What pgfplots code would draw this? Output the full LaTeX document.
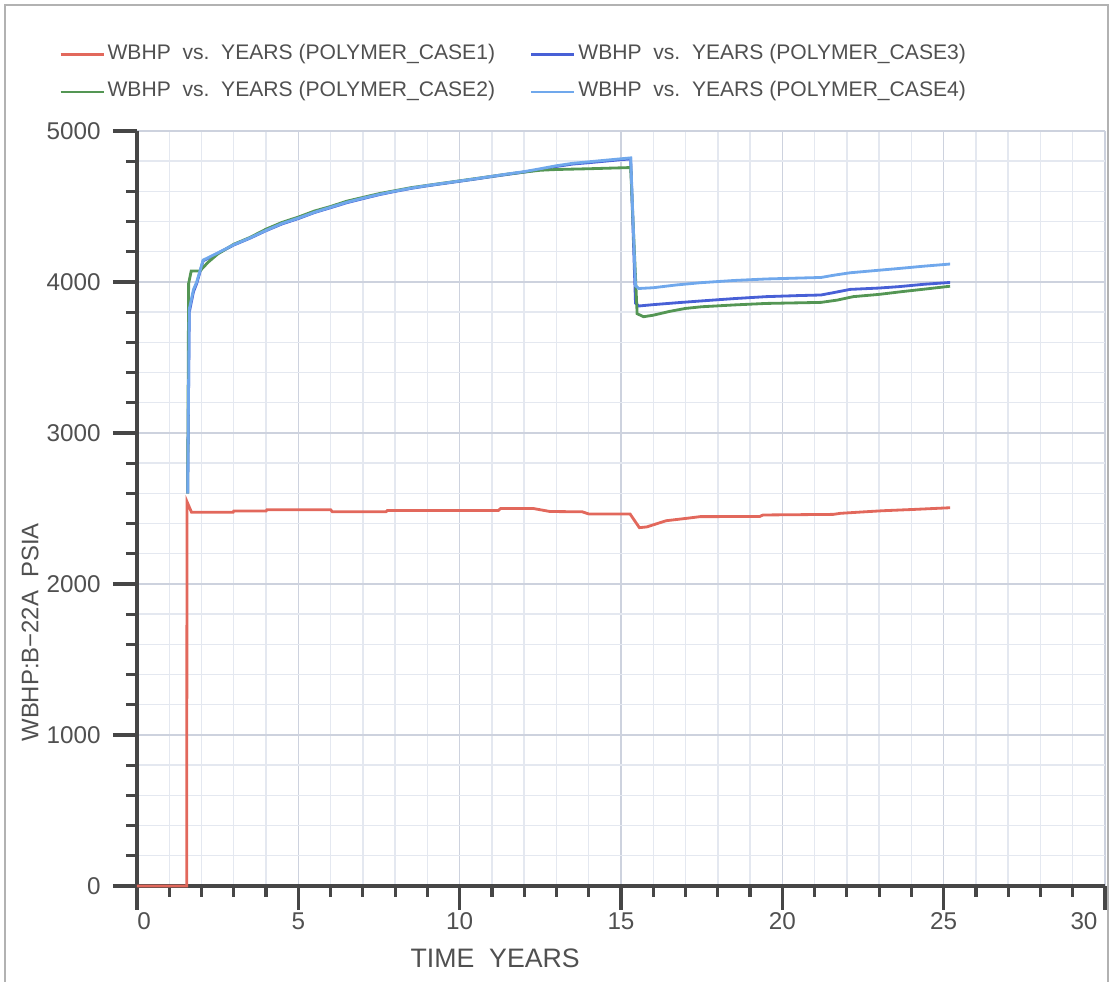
\documentclass[border=0pt]{standalone}
\usepackage{fontspec}
\setmainfont{Liberation Sans}
\usepackage{pgfplots}
\pgfplotsset{compat=1.18}
\definecolor{cred}{RGB}{226,104,92}
\definecolor{cgreen}{RGB}{84,150,84}
\definecolor{cblue}{RGB}{72,96,214}
\definecolor{clblue}{RGB}{112,168,236}
\definecolor{gridmin}{RGB}{228,232,240}
\definecolor{gridmaj}{RGB}{205,210,222}
\definecolor{axisc}{RGB}{70,70,70}
\definecolor{textc}{RGB}{80,80,80}
\begin{document}
\begin{tikzpicture}
\useasboundingbox (0,0) rectangle (111.6mm,98.2mm);
\draw[gray!60, line width=0.6pt] (0.5mm,0mm) -- (0.5mm,97.7mm) -- (110.8mm,97.7mm) -- (110.8mm,0mm);
\begin{axis}[
  at={(13.7mm,9.6mm)}, anchor=south west,
  scale only axis, width=96.8mm, height=75.5mm,
  xmin=0, xmax=30, ymin=0, ymax=5000,
  axis lines=left, axis line style={-, line width=0.9pt, color=axisc},
  xtick={0,5,...,30}, ytick={0,1000,...,5000},
  xticklabels={{\hspace*{1.4mm}0},5,10,15,20,25,{30\hspace*{4.2mm}}},
  minor x tick num=4, minor y tick num=4,
  grid=both,
  major grid style={gridmaj, line width=0.4pt},
  minor grid style={gridmin, line width=0.4pt},
  tick align=outside, major tick length=2.4mm, minor tick length=1.1mm,
  every tick/.style={axisc, line width=0.9pt},
  every tick label/.append style={font=\fontsize{6.9}{8}\selectfont, text=textc},
  xticklabel style={yshift=1.0mm},
  /pgf/number format/assume math mode=true,
  scaled ticks=false,
  /pgf/number format/1000 sep={},
  xlabel={TIME\ \ YEARS}, ylabel={WBHP:B−22A\ \ PSIA},
  xlabel style={at={(axis description cs:0.37,-0.0954)}, anchor=center, font=\fontsize{7.6}{9}\selectfont, text=textc},
  ylabel style={at={(axis description cs:-0.1105,0.336)}, anchor=center, font=\fontsize{6.8}{8}\selectfont, text=textc},
  clip=false,
  legend columns=2,
  legend cell align=left,
  legend style={at={(axis description cs:-0.0919,1.129)}, anchor=north west,
    draw=none, fill=none, font=\fontsize{6.0}{7.2}\selectfont, text=textc,
    nodes={inner sep=0.25mm}, row sep=3.5pt},
  legend image code/.code={\draw[#1] (0mm,0mm) -- (4.3mm,0mm);},
  every axis plot/.append style={line width=0.8pt},
]
\addplot[cred] coordinates {
(0,0) (1.54,0) (1.55,2545) (1.69,2475) (2.98,2475) (3.0,2483) (4.0,2483) (4.03,2492) (6.0,2492) (6.05,2479) (7.72,2479) (7.76,2487) (11.2,2487) (11.27,2500) (12.28,2500) (12.8,2480) (13.8,2478) (14.0,2464) (15.28,2464) (15.57,2373) (15.8,2378) (16.4,2419) (17.0,2434) (17.45,2446) (19.3,2447) (19.4,2457) (21.58,2461) (21.8,2468) (22.4,2476) (23.1,2485) (24.1,2494) (24.7,2500) (25.2,2505)
};
\addlegendentry{\makebox[42.0mm][l]{WBHP\ \ vs.\ \ YEARS (POLYMER\_CASE1)}}
\addplot[cblue] coordinates {
(1.57,2600) (1.62,3800) (1.75,3935) (1.85,3990) (2.05,4140) (2.5,4190) (3.0,4245) (3.5,4290) (4.0,4340) (4.5,4385) (5.0,4420) (5.5,4460) (6.0,4492) (6.5,4525) (7.0,4552) (7.5,4578) (8.0,4600) (8.5,4620) (9.0,4637) (9.5,4652) (10.0,4667) (10.5,4682) (11.0,4698) (11.5,4713) (12.0,4728) (12.5,4745) (13.0,4765) (13.5,4781) (14.0,4790) (14.5,4800) (15.0,4810) (15.3,4815) (15.45,3860) (15.55,3841) (16.0,3850) (16.7,3862) (17.45,3874) (18.5,3890) (19.5,3903) (20.5,3910) (21.2,3914) (21.6,3930) (22.1,3951) (23.0,3960) (23.6,3969) (24.4,3985) (25.2,3997)
};
\addlegendentry{WBHP\ \ vs.\ \ YEARS (POLYMER\_CASE3)}
\addplot[cgreen] coordinates {
(1.57,2600) (1.6,3990) (1.68,4073) (1.95,4073) (2.2,4130) (2.5,4185) (3.0,4250) (3.5,4295) (4.0,4350) (4.5,4395) (5.0,4430) (5.5,4470) (6.0,4500) (6.5,4535) (7.0,4560) (7.5,4585) (8.0,4605) (8.5,4625) (9.0,4640) (9.5,4655) (10.0,4670) (10.5,4685) (11.0,4700) (11.5,4715) (12.0,4728) (12.5,4740) (13.0,4745) (14.0,4750) (15.3,4758) (15.5,3790) (15.7,3770) (16.0,3780) (16.5,3805) (17.0,3825) (17.5,3836) (18.5,3848) (19.5,3858) (20.5,3862) (21.2,3865) (21.7,3880) (22.2,3903) (23.0,3918) (23.7,3936) (24.5,3955) (25.2,3972)
};
\addlegendentry{\makebox[42.0mm][l]{WBHP\ \ vs.\ \ YEARS (POLYMER\_CASE2)}}
\addplot[clblue] coordinates {
(1.57,2600) (1.62,3820) (1.75,3950) (1.85,4000) (2.05,4145) (2.5,4192) (3.0,4247) (3.5,4292) (4.0,4342) (4.5,4388) (5.0,4423) (5.5,4462) (6.0,4495) (6.5,4528) (7.0,4555) (7.5,4580) (8.0,4602) (8.5,4622) (9.0,4639) (9.5,4654) (10.0,4669) (10.5,4684) (11.0,4700) (11.5,4716) (12.0,4731) (12.5,4750) (13.0,4770) (13.5,4786) (14.0,4796) (14.5,4806) (15.0,4816) (15.3,4822) (15.45,3975) (15.55,3957) (16.0,3962) (16.7,3980) (17.45,3995) (18.5,4010) (19.5,4020) (20.5,4026) (21.2,4030) (21.6,4045) (22.1,4061) (23.0,4078) (23.64,4090) (24.4,4105) (25.2,4119)
};
\addlegendentry{WBHP\ \ vs.\ \ YEARS (POLYMER\_CASE4)}
\end{axis}
\end{tikzpicture}
\end{document}
